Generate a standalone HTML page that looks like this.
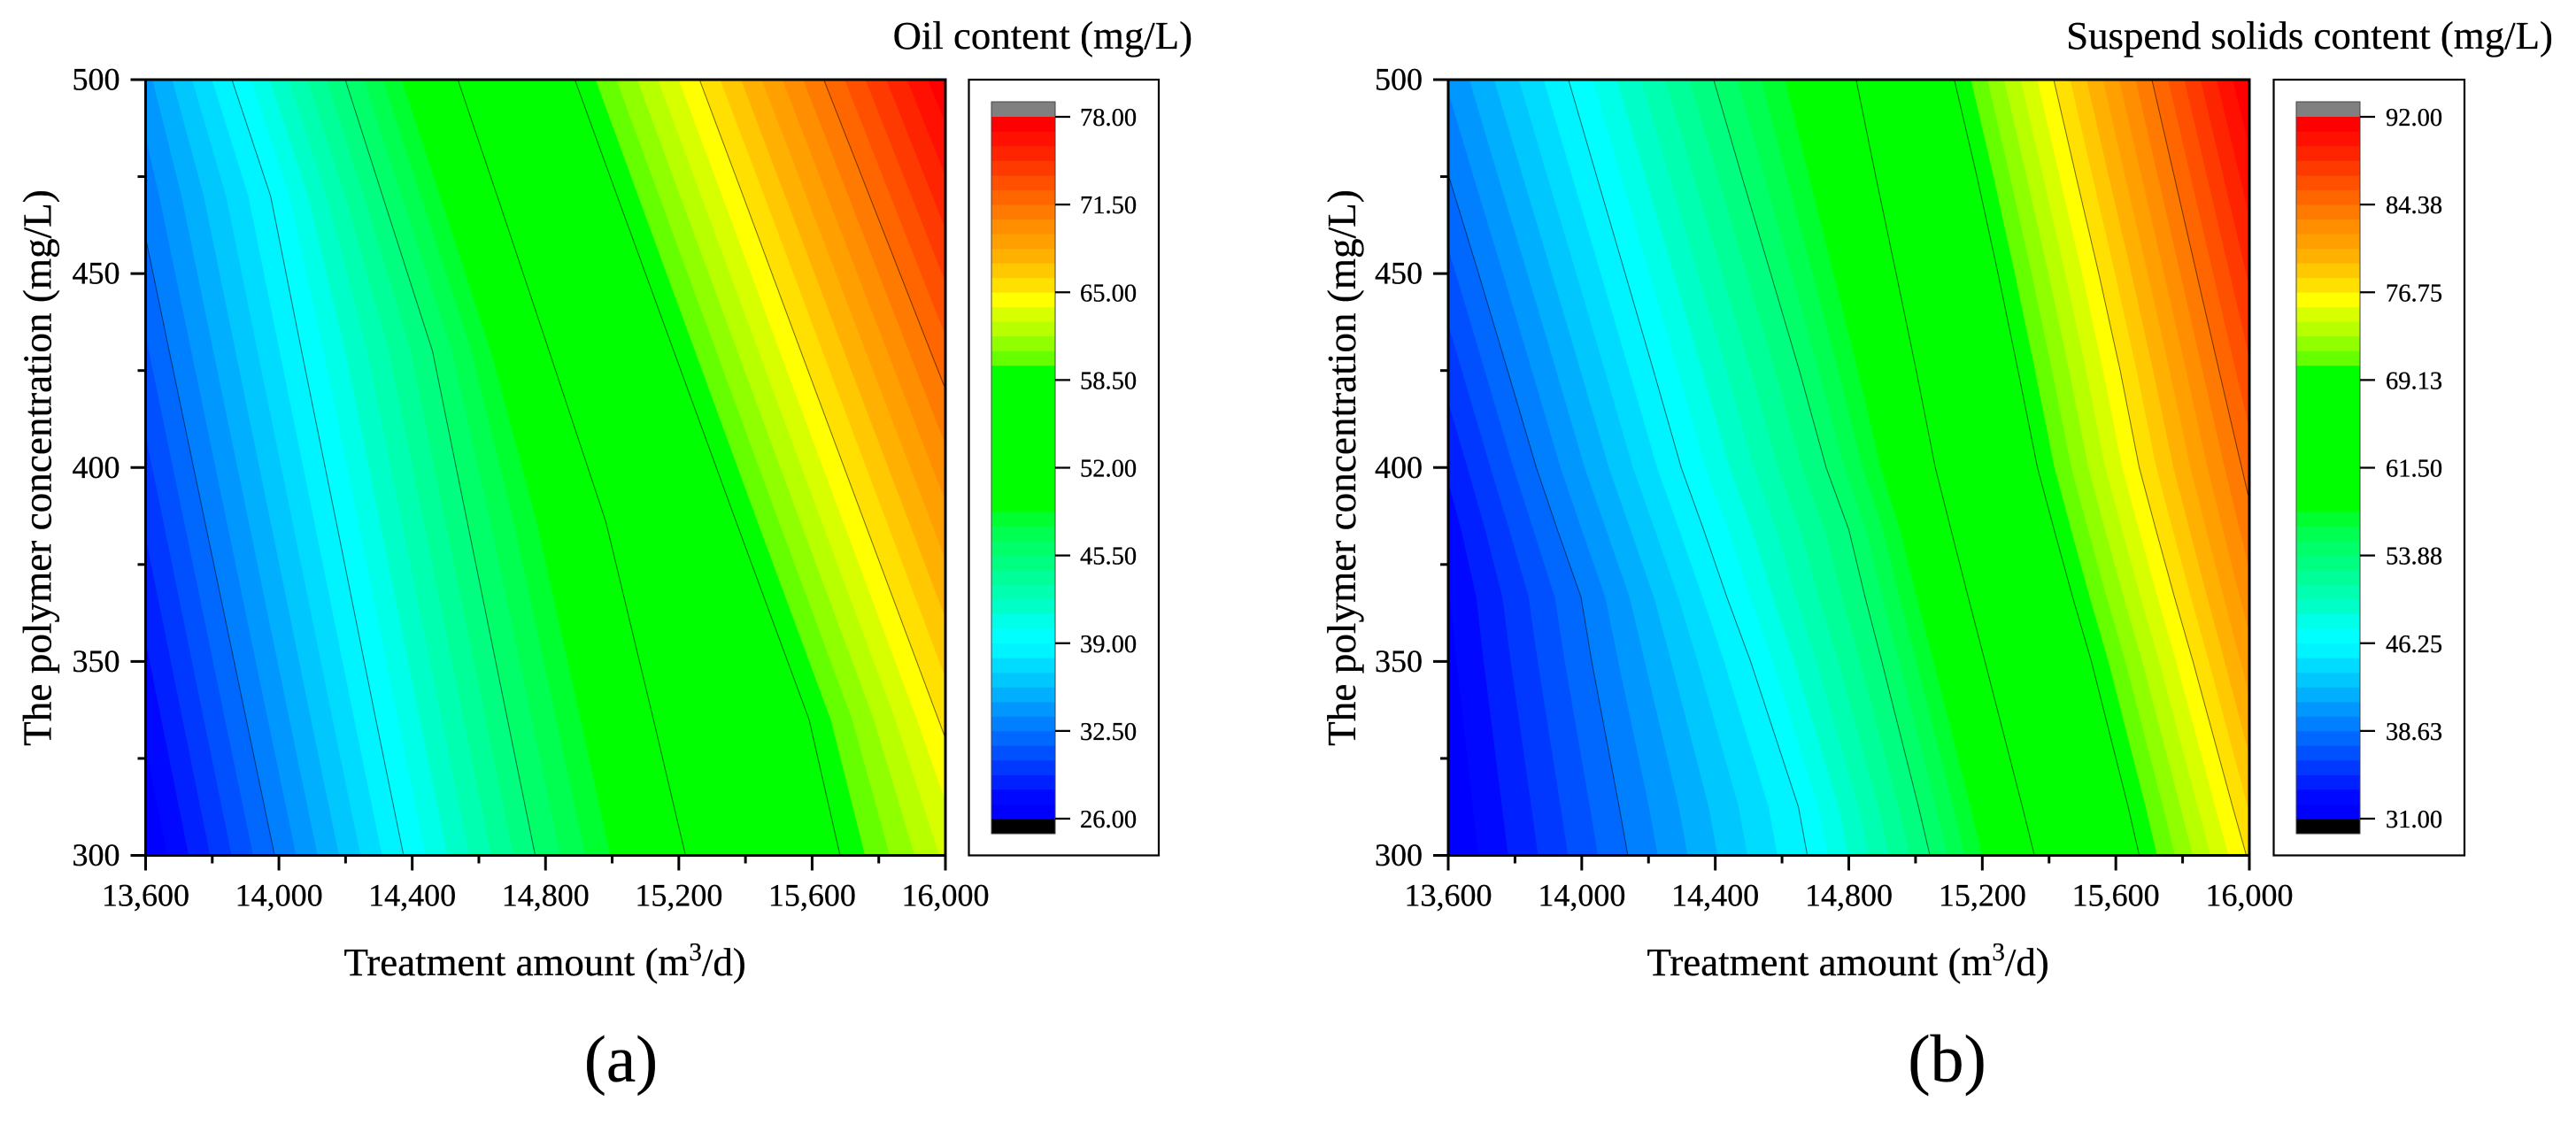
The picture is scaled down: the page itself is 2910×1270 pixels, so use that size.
<!DOCTYPE html>
<html lang="en">
<head>
<meta charset="utf-8">
<title>Contour plots of oil content and suspended solids content</title>
<style>
  html, body { margin: 0; padding: 0; background: #fff; }
  body { width: 2910px; height: 1270px; overflow: hidden; }
  svg { display: block; font-family: "Liberation Serif", "Times New Roman", serif; fill: #000; }
  text { fill: #000; stroke: #000; stroke-width: 0.3px; }
</style>
</head>
<body>
<svg id="figure" xmlns="http://www.w3.org/2000/svg" width="2910" height="1270" viewBox="0 0 2910 1270">
  <rect width="2910" height="1270" fill="#fff"/>
  <defs>
    <clipPath id="clip-a"><rect x="164.5" y="90" width="903.5" height="876.5"/></clipPath>
    <clipPath id="clip-b"><rect x="1636" y="90" width="905" height="876.5"/></clipPath>
  </defs>

  <g id="panel-a">
    <g id="field-a" clip-path="url(#clip-a)"></g>
    <g id="axes-a"></g>
    <g id="cbar-a"></g>
    <text x="1347" y="55" text-anchor="end" font-size="44.8">Oil content (mg/L)</text>
    <text x="388.5" y="1102" font-size="44.9">Treatment amount (m<tspan font-size="29" dy="-17">3</tspan><tspan dy="17">/d)</tspan></text>
    <text transform="translate(57.5,528.5) rotate(-90)" text-anchor="middle" font-size="45.2">The polymer concentration (mg/L)</text>
    <text x="701.5" y="1222" text-anchor="middle" font-size="75">(a)</text>
  </g>

  <g id="panel-b">
    <g id="field-b" clip-path="url(#clip-b)"></g>
    <g id="axes-b"></g>
    <g id="cbar-b"></g>
    <text x="2884" y="55" text-anchor="end" font-size="44.9">Suspend solids content (mg/L)</text>
    <text x="1860.5" y="1102" font-size="44.9">Treatment amount (m<tspan font-size="29" dy="-17">3</tspan><tspan dy="17">/d)</tspan></text>
    <text transform="translate(1531,528.5) rotate(-90)" text-anchor="middle" font-size="45.2">The polymer concentration (mg/L)</text>
    <text x="2199.5" y="1222" text-anchor="middle" font-size="76">(b)</text>
  </g>
</svg>

<script>
// ---- shared axis data ----
const xMajorTicks = [13600, 14000, 14400, 14800, 15200, 15600, 16000];
const xMinorTicks = [13800, 14200, 14600, 15000, 15400, 15800];
const xTickLabels = ["13,600", "14,000", "14,400", "14,800", "15,200", "15,600", "16,000"];
const yMajorTicks = [300, 350, 400, 450, 500];
const yMinorTicks = [325, 375, 425, 475];
const yTickLabels = ["300", "350", "400", "450", "500"];

// ---- panel (a): oil content ----
// polymer concentration rows at which each contour's treatment amount was read
const oilRows = [500, 470, 430, 386, 335, 300];
const oilLevelLabels = ["26.00", "32.50", "39.00", "45.50", "52.00", "58.50", "65.00", "71.50", "78.00"];
const oilAt26 = [13144, 13212, 13303, 13403, 13520, 13600];
const oilAt32 = [13501, 13574, 13671, 13778, 13902, 13987];
const oilAt39 = [13859, 13975, 14068, 14172, 14291, 14374];
const oilAt45 = [14199, 14311, 14461, 14565, 14686, 14769];
const oilAt52 = [14537, 14655, 14811, 14981, 15124, 15220];
const oilAt58 = [14888, 15015, 15185, 15372, 15591, 15684];
const oilAt65 = [15262, 15393, 15566, 15757, 15979, 16131];
const oilAt71 = [15635, 15772, 15955, 16157, 16390, 16550];
const oilAt78 = [16010, 16150, 16335, 16540, 16777, 16937];

// ---- panel (b): suspended solids content ----
const solidsRows = [500, 475, 450, 425, 400, 384, 366.5, 350, 312.5, 300];
const solidsLevelLabels = ["31.00", "38.63", "46.25", "53.88", "61.50", "69.13", "76.75", "84.38", "92.00"];
const solidsAt31 = [13112, 13197, 13282, 13367, 13451, 13494, 13527, 13544, 13586, 13600];
const solidsAt38 = [13515, 13602, 13691, 13778, 13864, 13927, 13998, 14030, 14112, 14138];
const solidsAt46 = [13960, 14045, 14130, 14215, 14298, 14365, 14435, 14506, 14649, 14676];
const solidsAt53 = [14395, 14480, 14566, 14652, 14732, 14800, 14849, 14899, 15009, 15043];
const solidsAt61 = [14822, 14881, 14942, 15002, 15059, 15106, 15158, 15208, 15320, 15356];
const solidsAt69 = [15116, 15184, 15247, 15307, 15365, 15415, 15471, 15527, 15637, 15670];
const solidsAt76 = [15414, 15481, 15549, 15613, 15670, 15720, 15776, 15831, 15950, 15991];
const solidsAt84 = [15708, 15775, 15842, 15909, 15977, 16021, 16070, 16116, 16221, 16255];
const solidsAt92 = [15999, 16069, 16139, 16209, 16279, 16323, 16372, 16418, 16523, 16558];

// colour of each of the 48 bands, lowest value first
const bandColors = [
  "#0000ff", "#0008ff", "#0020ff", "#0038ff", "#0050ff", "#0068ff",
  "#0080ff", "#0098ff", "#00b0ff", "#00c8ff", "#00dcff", "#00f4ff",
  "#00ffff", "#00ffe8", "#00ffc8", "#00ffb0", "#00ff98", "#00ff80",
  "#00ff68", "#00ff50", "#00ff30", "#00ff00", "#00ff00", "#00ff00",
  "#00ff00", "#00ff00", "#00ff00", "#00ff00", "#00ff00", "#00ff00",
  "#00ff00", "#66ff00", "#90ff00", "#b8ff00", "#d8ff00", "#ffff00",
  "#ffe000", "#ffc800", "#ffb000", "#ffa000", "#ff8e00", "#ff7a00",
  "#ff6600", "#ff5000", "#ff3a00", "#ff2400", "#ff1000", "#ff0000"
];

const SVGNS = "http://www.w3.org/2000/svg";
const BANDS_PER_INTERVAL = 6;

function make(parent, tag, attrs, content) {
  const el = document.createElementNS(SVGNS, tag);
  for (const k in attrs) el.setAttribute(k, attrs[k]);
  if (content !== undefined) el.textContent = content;
  parent.appendChild(el);
  return el;
}

function drawField(group, rows, isoCurves, xScale, yScale, left, right, top, bottom) {
  const base = make(group, "rect", { x: left, y: top, width: right - left, height: bottom - top, fill: bandColors[0] });
  
  

  const farRight = right + 2000;
  for (let k = 1; k < bandColors.length; k++) {
    const lower = Math.floor(k / BANDS_PER_INTERVAL);
    const frac = (k % BANDS_PER_INTERVAL) / BANDS_PER_INTERVAL;
    const curveA = isoCurves[lower];
    const curveB = isoCurves[Math.min(lower + 1, isoCurves.length - 1)];
    const pts = rows.map(function (c, i) {
      const xv = curveA[i] + (curveB[i] - curveA[i]) * frac;
      return xScale(xv).toFixed(1) + "," + yScale(c).toFixed(1);
    });
    pts.push(farRight + "," + yScale(rows[rows.length - 1]).toFixed(1));
    pts.push(farRight + "," + yScale(rows[0]).toFixed(1));
    const band = make(group, "polygon", { points: pts.join(" "), fill: bandColors[k] });
    
    
  }

  for (let m = 1; m < isoCurves.length - 1; m++) {
    const linePts = rows.map(function (c, i) {
      return xScale(isoCurves[m][i]).toFixed(1) + "," + yScale(c).toFixed(1);
    });
    const line = make(group, "polyline", { points: linePts.join(" "), fill: "none", stroke: "#000", "stroke-width": 1, "stroke-opacity": 0.55 });
    
    
  }
}

function drawAxes(group, xScale, yScale, left, right, top, bottom) {
  const frame = make(group, "rect", { x: left, y: top, width: right - left, height: bottom - top, fill: "none", stroke: "#000", "stroke-width": 3 });
  
  

  xMajorTicks.forEach(function (v, i) {
    const x = xScale(v);
    const tick = make(group, "line", { x1: x, x2: x, y1: bottom, y2: bottom + 17, stroke: "#000", "stroke-width": 3 });
    
    
    const label = make(group, "text", { x: x, y: bottom + 57, "text-anchor": "middle", "font-size": 36 }, xTickLabels[i]);
    
    
  });
  xMinorTicks.forEach(function (v) {
    const x = xScale(v);
    const tick = make(group, "line", { x1: x, x2: x, y1: bottom, y2: bottom + 9, stroke: "#000", "stroke-width": 3 });
    
    
  });
  yMajorTicks.forEach(function (v, i) {
    const y = yScale(v);
    const tick = make(group, "line", { x1: left, x2: left - 17, y1: y, y2: y, stroke: "#000", "stroke-width": 3 });
    
    
    const label = make(group, "text", { x: left - 29, y: y + 11.5, "text-anchor": "end", "font-size": 36 }, yTickLabels[i]);
    
    
  });
  yMinorTicks.forEach(function (v) {
    const y = yScale(v);
    const tick = make(group, "line", { x1: left, x2: left - 9, y1: y, y2: y, stroke: "#000", "stroke-width": 3 });
    
    
  });
}

function drawColorbar(group, levelLabels, boxLeft, boxRight, barLeft, barRight, labelX) {
  const barTop = 132, barBottom = 925, capH = 17, plotTop = 90, plotBottom = 966.5;
  const bandH = (barBottom - barTop) / bandColors.length;

  const box = make(group, "rect", { x: boxLeft, y: plotTop, width: boxRight - boxLeft, height: plotBottom - plotTop, fill: "#fff", stroke: "#000", "stroke-width": 2.2 });
  
  

  const over = make(group, "rect", { x: barLeft, y: barTop - capH, width: barRight - barLeft, height: capH, fill: "#808080" });
  
  
  const under = make(group, "rect", { x: barLeft, y: barBottom, width: barRight - barLeft, height: capH, fill: "#000" });
  
  

  bandColors.forEach(function (c, k) {
    const swatch = make(group, "rect", { x: barLeft, y: barBottom - (k + 1) * bandH, width: barRight - barLeft, height: bandH + 0.4, fill: c });
    
    
  });

  const outline = make(group, "rect", { x: barLeft, y: barTop - capH, width: barRight - barLeft, height: barBottom - barTop + 2 * capH, fill: "none", stroke: "#444", "stroke-width": 1 });
  
  

  levelLabels.forEach(function (txt, i) {
    const y = barBottom - i * BANDS_PER_INTERVAL * bandH;
    const tick = make(group, "line", { x1: barRight, x2: barRight + 17, y1: y, y2: y, stroke: "#000", "stroke-width": 2.2 });
    
    
    const label = make(group, "text", { x: labelX, y: y + 10, "font-size": 28.5 }, txt);
    
    
  });
}

function linear(d0, d1, r0, r1) {
  return function (v) { return r0 + (v - d0) * (r1 - r0) / (d1 - d0); };
}

const oilCurves = [oilAt26, oilAt32, oilAt39, oilAt45, oilAt52, oilAt58, oilAt65, oilAt71, oilAt78];
const solidsCurves = [solidsAt31, solidsAt38, solidsAt46, solidsAt53, solidsAt61, solidsAt69, solidsAt76, solidsAt84, solidsAt92];

const xScaleA = linear(13600, 16000, 164.5, 1068);
const xScaleB = linear(13600, 16000, 1636, 2541);
const yScale = linear(300, 500, 966.5, 90);

drawField(document.getElementById("field-a"), oilRows, oilCurves, xScaleA, yScale, 164.5, 1068, 90, 966.5);
drawAxes(document.getElementById("axes-a"), xScaleA, yScale, 164.5, 1068, 90, 966.5);
drawColorbar(document.getElementById("cbar-a"), oilLevelLabels, 1094.5, 1309, 1120, 1192, 1220);

drawField(document.getElementById("field-b"), solidsRows, solidsCurves, xScaleB, yScale, 1636, 2541, 90, 966.5);
drawAxes(document.getElementById("axes-b"), xScaleB, yScale, 1636, 2541, 90, 966.5);
drawColorbar(document.getElementById("cbar-b"), solidsLevelLabels, 2568.5, 2784, 2594, 2666, 2695);
</script>
</body>
</html>
